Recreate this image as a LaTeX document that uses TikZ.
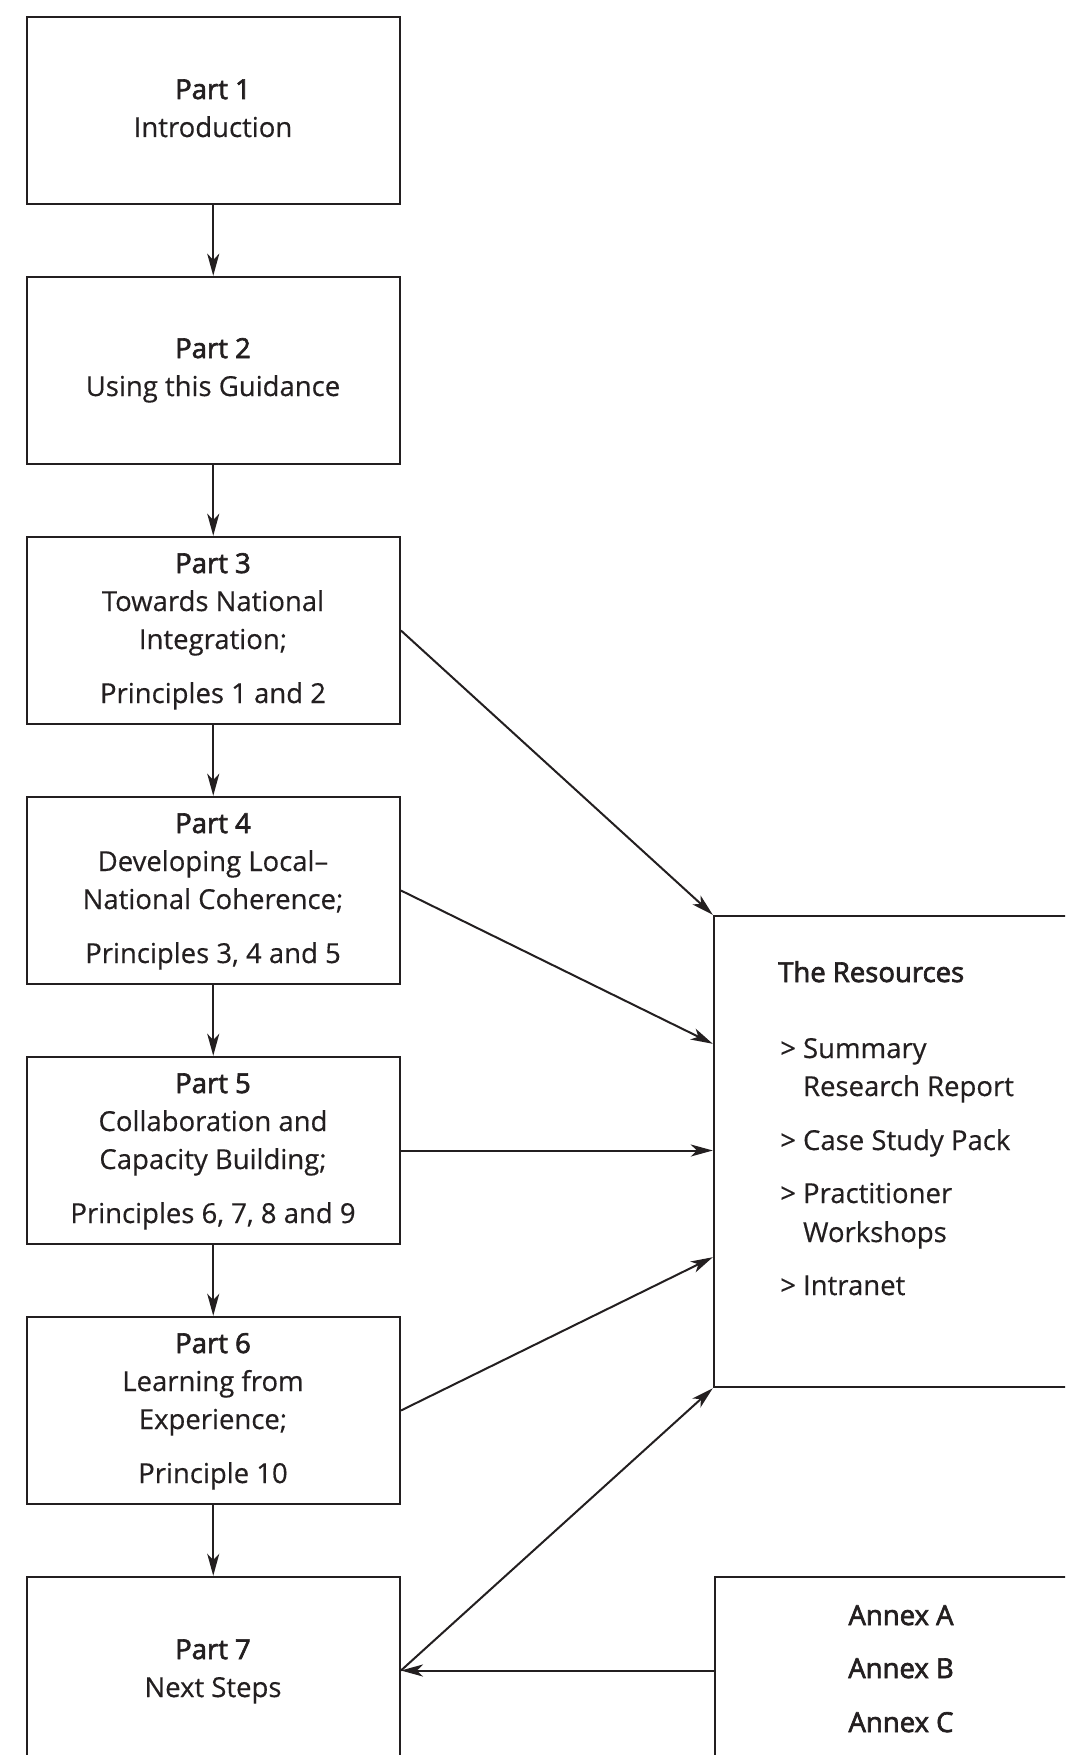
\documentclass[tikz,border=0pt]{standalone}
\usepackage{fontspec}
\setmainfont{Open Sans}[FakeBold=0.4]
\newfontfamily\boldpart[FakeBold=2.4]{Open Sans}
\usetikzlibrary{arrows.meta,calc}
\definecolor{ink}{RGB}{35,31,32}
\begin{document}
\begin{tikzpicture}[x=1pt,y=-1pt,
  box/.style={draw=ink,line width=2.4pt,minimum width=373pt,minimum height=187pt,inner sep=0pt},
  bigbox/.style={draw=ink,line width=2.4pt,minimum width=400pt,inner sep=0pt},
  txt/.style={anchor=base,inner sep=0pt,text=ink,font=\fontsize{27.5}{33}\selectfont},
  btxt/.style={anchor=base,inner sep=0pt,text=ink,font=\fontsize{27.5}{33}\selectfont\boldpart},
  ltxt/.style={txt,anchor=base west},
  lbtxt/.style={btxt,anchor=base west},
  arr/.style={draw=ink,line width=2pt,-{Stealth[length=22pt,width=12pt,inset=6pt]}}]
\path[use as bounding box] (0,0) rectangle (1065,1755);
\clip (0,0) rectangle (1065,1755);

% left column boxes
\node[box] (b1) at (213.25,110.5) {};
\node[box] (b2) at (213.25,370.5) {};
\node[box] (b3) at (213.25,630.5) {};
\node[box] (b4) at (213.25,890.5) {};
\node[box] (b5) at (213.25,1150.5) {};
\node[box] (b6) at (213.25,1410.5) {};
\node[box] (b7) at (213.25,1670.5) {};

% right boxes
\node[bigbox,minimum height=471pt] (res) at (914,1151.5) {};
\node[bigbox,minimum height=187pt] (ann) at (915,1670.5) {};

% texts
\node[btxt] (t1a) at (213,99) {Part 1};
\node[txt] (t1b) at (213,137) {Introduction};

\node[btxt] (t2a) at (213,358) {Part 2};
\node[txt] (t2b) at (213,396) {Using this Guidance};

\node[btxt] (t3a) at (213,573) {Part 3};
\node[txt] (t3b) at (213,611) {Towards National};
\node[txt] (t3c) at (213,649) {Integration;};
\node[txt] (t3d) at (213,703) {Principles 1 and 2};

\node[btxt] (t4a) at (213,833) {Part 4};
\node[txt] (t4b) at (213,871) {Developing Local–};
\node[txt] (t4c) at (213,909) {National Coherence;};
\node[txt] (t4d) at (213,963) {Principles 3, 4 and 5};

\node[btxt] (t5a) at (213,1093) {Part 5};
\node[txt] (t5b) at (213,1131) {Collaboration and};
\node[txt] (t5c) at (213,1169) {Capacity Building;};
\node[txt] (t5d) at (213,1223) {Principles 6, 7, 8 and 9};

\node[btxt] (t6a) at (213,1353) {Part 6};
\node[txt] (t6b) at (213,1391) {Learning from};
\node[txt] (t6c) at (213,1429) {Experience;};
\node[txt] (t6d) at (213,1483) {Principle 10};

\node[btxt] (t7a) at (213,1659) {Part 7};
\node[txt] (t7b) at (213,1697) {Next Steps};

\node[lbtxt] (r0) at (778,982) {The Resources};
\node[ltxt] (r1) at (780,1058) {> Summary};
\node[ltxt] (r2) at (780,1096) {\phantom{> }Research Report};
\node[ltxt] (r3) at (780,1150) {> Case Study Pack};
\node[ltxt] (r4) at (780,1203) {> Practitioner};
\node[ltxt] (r5) at (780,1242) {\phantom{> }Workshops};
\node[ltxt] (r6) at (780,1295) {> Intranet};

\node[btxt] (a1) at (901,1625) {Annex A};
\node[btxt] (a2) at (901,1678) {Annex B};
\node[btxt] (a3) at (901,1732) {Annex C};

% vertical connectors
\draw[arr] (b1.south) -- (b2.north);
\draw[arr] (b2.south) -- (b3.north);
\draw[arr] (b3.south) -- (b4.north);
\draw[arr] (b4.south) -- (b5.north);
\draw[arr] (b5.south) -- (b6.north);
\draw[arr] (b6.south) -- (b7.north);

% connectors to resources
\draw[arr] (b3.east) -- (res.north west);
\draw[arr] (b4.east) -- ([yshift=-129pt]res.north west);
\draw[arr] (b5.east) -- (b5.east -| res.west);
\draw[arr] (b6.east) -- ([yshift=131pt]res.south west);
\draw[arr] (b7.east) -- (res.south west);
\draw[arr] (ann.west) -- (b7.east);
\end{tikzpicture}
\end{document}
